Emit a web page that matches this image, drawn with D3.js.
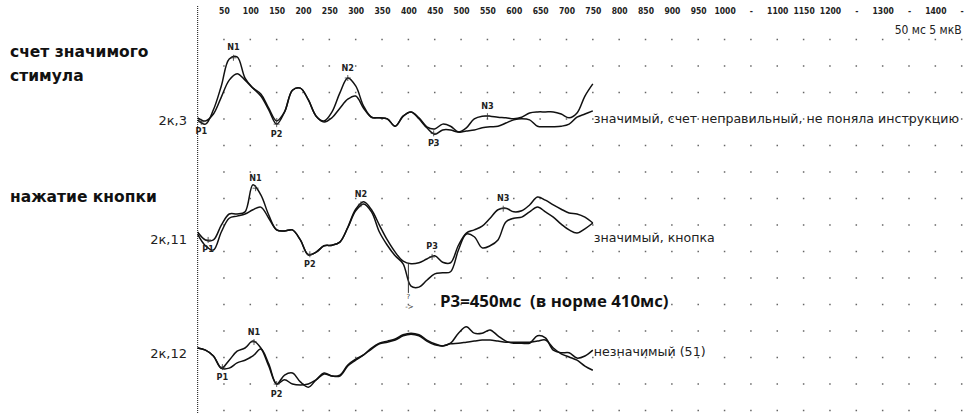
<!DOCTYPE html>
<html>
<head>
<meta charset="utf-8">
<script src="https://cdn.jsdelivr.net/npm/d3@7"></script>
<style>
body { margin: 0; background: #fff; }
svg { display: block; }
</style>
</head>
<body>
<div id="chart"></div>
<script>
// time axis labels (ms), some are printed as "-"
var tickTimes = [50,100,150,200,250,300,350,400,450,500,550,600,650,700,750,800,850,900,950,1000,
                 1050,1100,1150,1200,1250,1300,1350,1400,1450];
var tickLabels = ["50","100","150","200","250","300","350","400","450","500","550","600","650","700",
                  "750","800","850","900","950","1000","-","1100","1150","1200","-","1300","-","1400","-"];

// sample times of the averaged curves, ms
var times = [0,15,30,45,60,75,90,105,120,135,150,165,180,195,210,225,240,255,270,285,
             300,315,330,345,360,375,390,405,420,435,450,465,480,495,510,525,540,555,570,585,
             600,615,630,645,660,675,690,705,720,735,750];

// amplitudes, µV (negative = N up)
var k3a = [0.4,-0.4,2.3,6.8,11.9,12.3,8.3,6.4,4.9,2.3,-0.4,1.9,6.0,6.4,4.2,1.1,0.2,1.9,5.5,8.3,
           6.8,3.0,0.9,0.8,0.6,-0.8,1.1,1.9,0.6,-1.1,-2.3,-1.5,-1.5,-1.9,-1.1,0.6,1.1,1.1,0.9,0.8,
           0.6,0.9,1.7,1.9,1.9,1.9,1.5,0.8,1.7,4.9,7.2];
var k3b = [0.8,0.2,1.5,4.7,7.9,9.1,7.9,6.4,5.3,2.6,0.2,1.9,6.0,6.4,4.2,1.1,0.0,0.8,2.6,4.3,
           4.9,2.6,0.9,0.8,0.6,-0.8,1.1,1.9,0.8,-0.9,-1.3,-0.4,-0.8,-1.9,-1.7,-1.5,-1.1,-0.9,-0.8,-0.2,
           0.4,0.6,0.4,-0.8,-0.9,-0.9,-0.8,-0.4,0.9,1.5,2.1];

var k11a = [0.0,-1.5,-1.5,1.3,3.4,3.4,3.8,8.9,7.0,3.2,0.4,0.2,0.4,-1.5,-4.3,-3.8,-2.6,-2.5,-1.9,0.9,
            4.3,5.7,4.2,1.3,-1.5,-3.8,-5.5,-6.0,-5.8,-5.1,-4.5,-5.7,-5.8,-2.5,-0.2,0.4,1.1,2.6,4.2,4.5,
            3.8,4.0,5.1,6.6,6.0,5.1,4.3,3.6,3.4,2.8,1.7];
var k11b = [-0.4,-2.6,-3.4,0.0,2.6,3.0,3.4,4.2,4.7,2.6,0.4,0.2,0.4,-1.5,-4.3,-3.8,-2.6,-2.5,-1.9,0.8,
            4.0,5.3,3.8,0.0,-2.5,-4.5,-6.0,-10.2,-10.4,-9.1,-7.9,-7.7,-7.5,-3.4,-0.4,-0.9,-3.0,-2.6,-1.5,1.9,
            2.6,2.8,3.8,4.7,3.8,2.8,1.5,0.4,-0.2,0.6,1.7];

var k12a = [0.0,-0.4,-1.5,-3.8,-2.3,-0.6,0.0,1.3,0.0,-3.4,-6.8,-5.1,-4.7,-6.4,-7.4,-6.0,-4.7,-5.3,-5.1,-3.2,
            -2.1,-1.3,0.0,0.9,1.3,1.7,2.5,2.8,2.5,1.5,0.8,0.4,0.9,2.8,4.0,2.8,2.8,3.4,2.3,1.3,
            0.9,0.9,0.9,2.3,1.9,-0.4,-0.9,-0.9,-1.9,-1.5,-0.4];
var k12b = [0.0,-0.4,-1.5,-3.8,-3.8,-2.8,-2.3,-1.5,-0.2,-3.0,-6.8,-6.0,-6.8,-7.0,-6.8,-6.0,-4.9,-5.3,-5.3,-3.4,
            -2.3,-1.3,-0.2,0.8,1.1,1.5,2.3,2.6,2.3,1.3,0.6,0.4,0.8,0.9,1.1,1.3,1.5,1.5,1.3,1.1,
            1.1,1.1,1.1,1.3,1.5,0.0,-1.1,-1.7,-2.3,-3.4,-4.2];

var panelNames = ["2к,3", "2к,11", "2к,12"];
var panelNotes = ["значимый, счет неправильный, не поняла инструкцию", "значимый, кнопка", "незначимый (51)"];
var peakNames = [["P1","N1","P2","N2","P3","N3"], ["P1","N1","P2","N2","P3","N3"], ["P1","N1","P2"]];
var peakTimes = [[7,68,150,285,448,550], [20,110,213,310,445,580], [47,107,150]];

var W = 976, H = 414;
var svg = d3.select("#chart").append("svg")
    .attr("width", W)
    .attr("height", H);

var x = d3.scaleLinear().domain([0, 1450]).range([197.6, 961.7]);
var gridRow = d3.scaleLinear().domain([0, 14]).range([39.5, 410.5]);
var baselines = [122, 232, 348];
var labelShift = [-1, 8, 6];   // side labels sit a little below the curve start
var series = [[k3a, k3b], [k11a, k11b], [k12a, k12b]];

// dot grid
var dots = [];
tickTimes.forEach(function(t) {
  d3.range(15).forEach(function(r) { dots.push([t, r]); });
});
svg.append("g").selectAll("rect")
  .data(dots).enter().append("rect")
    .attr("x", function(d) { return x(d[0]) - 0.75; })
    .attr("y", function(d) { return gridRow(d[1]) - 0.75; })
    .attr("width", 1.5).attr("height", 1.5)
    .attr("fill", "#666");

// dotted time axis
svg.append("line")
  .attr("x1", x(0)).attr("x2", x(0))
  .attr("y1", 6).attr("y2", H)
  .attr("stroke", "#333").attr("stroke-width", 1.2)
  .attr("stroke-dasharray", "1,1");

var axis = d3.axisTop(x)
  .tickValues(tickTimes)
  .tickSize(0)
  .tickFormat(function(d, i) { return tickLabels[i]; });
var ax = svg.append("g").attr("transform", "translate(0,14)").call(axis);
ax.select(".domain").remove();
ax.selectAll("text")
  .attr("dy", "0.35em")
  .attr("font-family", "DejaVu Sans Condensed, DejaVu Sans")
  .attr("font-size", 8.5)
  .attr("font-weight", "bold")
  .attr("fill", "#222");

svg.append("text")
  .attr("x", x(1450)).attr("y", 30)
  .attr("text-anchor", "end")
  .attr("dominant-baseline", "middle")
  .attr("font-family", "DejaVu Sans Condensed, DejaVu Sans")
  .attr("font-size", 12)
  .attr("fill", "#222")
  .text("50 мс 5 мкВ");

// section titles on the left
var titles = [["счет значимого", 52], ["стимула", 76], ["нажатие кнопки", 197]];
svg.selectAll(".title").data(titles).enter().append("text")
  .attr("x", 10).attr("y", function(d) { return d[1]; })
  .attr("dominant-baseline", "middle")
  .attr("font-family", "DejaVu Sans")
  .attr("font-weight", "bold")
  .attr("font-size", 15.5)
  .attr("fill", "#111")
  .text(function(d) { return d[0]; });

series.forEach(function(pair, p) {
  var base = baselines[p];
  var y = d3.scaleLinear().domain([-5, 5]).range([base + 26.5, base - 26.5]);
  var line = d3.line()
    .x(function(d, i) { return x(times[i]); })
    .y(function(d) { return y(d); })
    .curve(d3.curveCatmullRom.alpha(0.5));

  var g = svg.append("g");
  pair.forEach(function(vals) {
    g.append("path")
      .attr("d", line(vals))
      .attr("fill", "none")
      .attr("stroke", "#111")
      .attr("stroke-width", 1.5);
  });

  g.append("text")
    .attr("x", 187).attr("y", base + labelShift[p])
    .attr("text-anchor", "end")
    .attr("dominant-baseline", "middle")
    .attr("font-family", "DejaVu Sans")
    .attr("font-size", 13)
    .attr("fill", "#222")
    .text(panelNames[p]);

  g.append("text")
    .attr("x", x(times[times.length - 1]) + 1).attr("y", base + labelShift[p] - 2)
    .attr("dominant-baseline", "middle")
    .attr("font-family", "DejaVu Sans")
    .attr("font-size", 12.6)
    .attr("fill", "#222")
    .text(panelNotes[p]);

  // peak marks on the first curve
  var interp = d3.scaleLinear().domain(times).range(pair[0]);
  peakNames[p].forEach(function(name, i) {
    var t = peakTimes[p][i];
    var v = interp(t);
    var up = v > (interp(t - 20) + interp(t + 20)) / 2;
    var px = x(t), py = y(v);
    g.append("path")
      .attr("d", "M" + (px - 3) + "," + py + "h6M" + px + "," + (py - 3) + "v6")
      .attr("stroke", "#333").attr("stroke-width", 0.8);
    g.append("text")
      .attr("x", px).attr("y", up ? py - 10 : py + 10)
      .attr("text-anchor", "middle")
      .attr("dominant-baseline", "middle")
      .attr("font-family", "DejaVu Sans Condensed, DejaVu Sans")
      .attr("font-weight", "bold")
      .attr("font-size", 9)
      .attr("fill", "#222")
      .text(name);
  });
});

// delayed P3 note in the button panel
var yb = d3.scaleLinear().domain([-5, 5]).range([baselines[1] + 26.5, baselines[1] - 26.5]);
svg.append("line")
  .attr("x1", x(400)).attr("x2", x(400))
  .attr("y1", yb(-6)).attr("y2", yb(-11.5))
  .attr("stroke", "#333").attr("stroke-width", 1);
svg.append("text")
  .attr("x", x(400)).attr("y", yb(-12.3))
  .attr("text-anchor", "middle").attr("dominant-baseline", "middle")
  .attr("font-family", "DejaVu Sans").attr("font-size", 7).attr("fill", "#333")
  .text("?");
svg.append("text")
  .attr("x", x(402)).attr("y", yb(-14.2))
  .attr("text-anchor", "middle").attr("dominant-baseline", "middle")
  .attr("font-family", "DejaVu Sans").attr("font-size", 7).attr("fill", "#333")
  .text("->");
svg.append("text")
  .attr("x", x(460)).attr("y", gridRow(10) - 2)
  .attr("dominant-baseline", "middle")
  .style("white-space", "pre")
  .attr("font-family", "Open Sans")
  .attr("font-weight", "bold")
  .attr("font-size", 16.8)
  .attr("fill", "#111")
  .text("P3=450мс  (в норме 410мс)");
</script>
</body>
</html>
